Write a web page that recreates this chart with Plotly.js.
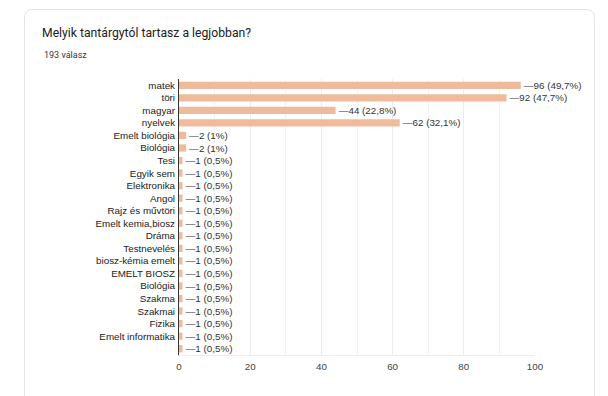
<!DOCTYPE html>
<html>
<head>
<meta charset="utf-8">
<script src="https://cdn.plot.ly/plotly-3.0.1.min.js"></script>
<style>
  html, body { margin: 0; padding: 0; background: #ffffff; }
  #wrap { position: relative; width: 608px; height: 396px; overflow: hidden; }
  #card { position: absolute; left: 24px; top: 9px; width: 571px; height: 420px;
          border: 1px solid #e3e3e3; border-radius: 8px; box-sizing: border-box; background: #fff; }
  #chart { position: absolute; left: 0; top: 0; width: 608px; height: 396px; }
</style>
</head>
<body>
<div id="wrap">
  <div id="card"></div>
  <div id="chart"></div>
</div>
<script>
const totalResponses = 193;
const categories = ["matek", "töri", "magyar", "nyelvek", "Emelt biológia", "Biológia", "Tesi",
  "Egyik sem", "Elektronika", "Angol", "Rajz és művtöri", "Emelt kemia,biosz", "Dráma",
  "Testnevelés", "biosz-kémia emelt", "EMELT BIOSZ", "Biológia", "Szakma", "Szakmai",
  "Fizika", "Emelt informatika", ""];
const values = [96, 92, 44, 62, 2, 2, 1, 1, 1, 1, 1, 1, 1, 1, 1, 1, 1, 1, 1, 1, 1, 1];
const xTickValues = [0, 20, 40, 60, 80, 100];

const positions = categories.map((c, i) => i);
function pct(v) {
  let s = (v / totalResponses * 100).toFixed(1);
  if (s.endsWith(".0")) s = s.slice(0, -2);
  return s.replace(".", ",");
}
const labels = values.map(v => "—" + v + " (" + pct(v) + "%)");

const trace = {
  type: "bar",
  orientation: "h",
  y: positions,
  x: values,
  width: 0.58,
  marker: { color: "#efbb9c" },
  text: labels,
  textposition: "outside",
  constraintext: "none",
  textangle: 0,
  cliponaxis: false,
  textfont: { family: "Liberation Sans, Arial, sans-serif", size: 9.8, color: "#333333" },
  hoverinfo: "none"
};

const layout = {
  width: 608, height: 396,
  margin: { l: 179, r: 73, t: 79, b: 41, pad: 0 },
  paper_bgcolor: "rgba(0,0,0,0)",
  plot_bgcolor: "rgba(0,0,0,0)",
  showlegend: false,
  bargap: 0.42,
  title: {
    text: "Melyik tantárgytól tartasz a legjobban?",
    font: { family: "Roboto, sans-serif", size: 12.2, color: "#202124" },
    x: 42 / 608, xanchor: "left", xref: "container",
    y: 1 - 33 / 396, yanchor: "middle", yref: "container"
  },
  annotations: [{
    text: "193 válasz",
    xref: "paper", yref: "paper",
    x: (42 - 179) / 356, xanchor: "left",
    y: 1 + (79 - 55) / 276, yanchor: "middle",
    showarrow: false,
    font: { family: "Roboto, sans-serif", size: 9, color: "#333333" }
  }],
  xaxis: {
    range: [0, 100],
    tickvals: xTickValues,
    ticktext: xTickValues.map(String),
    showgrid: true, gridcolor: "#ececec", gridwidth: 1,
    minor: { dtick: 10, showgrid: true, gridcolor: "#f2f2f2" },
    zeroline: false,
    showline: true, linecolor: "#ececec", linewidth: 1,
    ticks: "", ticklabelstandoff: 2,
    tickfont: { family: "Liberation Sans, Arial, sans-serif", size: 9.8, color: "#444444" },
    fixedrange: true
  },
  yaxis: {
    autorange: false,
    range: [categories.length - 0.5, -0.5],
    tickvals: positions,
    ticktext: categories,
    showgrid: false, zeroline: false,
    showline: true, linecolor: "#333333", linewidth: 1,
    ticks: "", ticklabelstandoff: 1,
    tickfont: { family: "Liberation Sans, Arial, sans-serif", size: 9.8, color: "#222222" },
    fixedrange: true
  }
};

Plotly.newPlot("chart", [trace], layout, { displayModeBar: false, staticPlot: true });
</script>
</body>
</html>
